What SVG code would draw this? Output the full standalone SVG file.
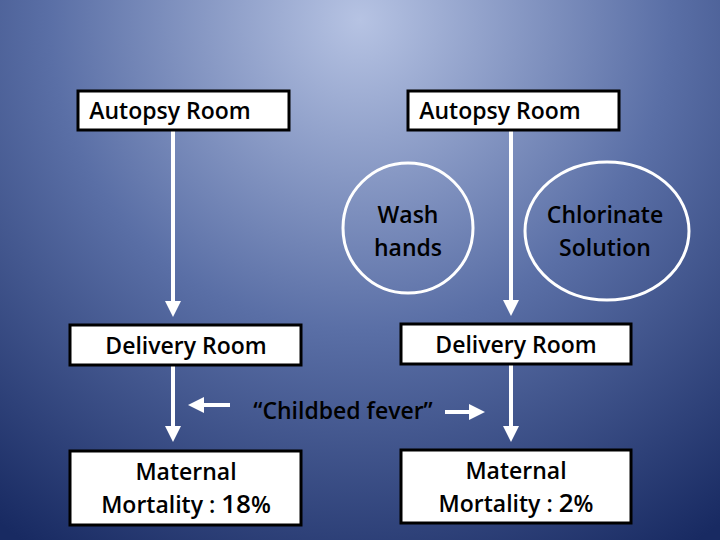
<svg xmlns="http://www.w3.org/2000/svg" width="720" height="540" viewBox="0 0 720 540">
<defs>
<radialGradient id="bg" cx="360" cy="20" r="620" gradientUnits="userSpaceOnUse">
<stop offset="0" stop-color="#b6c3e3"/>
<stop offset="0.5" stop-color="#5a6fa6"/>
<stop offset="1" stop-color="#182a62"/>
</radialGradient>
<marker id="ah" markerWidth="4" markerHeight="4" refX="3" refY="2" orient="auto" markerUnits="strokeWidth">
<path d="M0,0 L4,2 L0,4 Z" fill="#fff"/>
</marker>
</defs>
<style>
.box{fill:#fff;stroke:#000;stroke-width:3}
.circ{fill:none;stroke:#fff;stroke-width:3}
.t{font-family:"Open Sans","Noto Sans",sans-serif;font-size:23px;font-weight:600;fill:#000;text-anchor:middle}
.ln{stroke:#fff;stroke-width:4;fill:none;marker-end:url(#ah)}
</style>
<rect width="720" height="540" fill="url(#bg)"/>
<g id="connectors">
<path class="ln" d="M173,131 V313"/>
<path class="ln" d="M173,366 V438"/>
<path class="ln" d="M511,131 V312"/>
<path class="ln" d="M511,365 V438"/>
<path class="ln" d="M230,405 H192"/>
<path class="ln" d="M445,412 H481"/>
</g>
<g id="autopsy1"><rect class="box" x="78" y="91" width="211" height="39"/><text class="t" x="170" y="119">Autopsy Room</text></g>
<g id="autopsy2"><rect class="box" x="408" y="91" width="211" height="39"/><text class="t" x="500" y="119">Autopsy Room</text></g>
<g id="wash"><circle class="circ" cx="408" cy="228" r="65"/><text class="t" x="408" y="223">Wash</text><text class="t" x="408" y="256">hands</text></g>
<g id="chlor"><ellipse class="circ" cx="607" cy="231" rx="82" ry="69"/><text class="t" x="605" y="223">Chlorinate</text><text class="t" x="605" y="256">Solution</text></g>
<g id="delivery1"><rect class="box" x="70" y="325" width="231" height="40"/><text class="t" x="186" y="354">Delivery Room</text></g>
<g id="delivery2"><rect class="box" x="401" y="324" width="230" height="40"/><text class="t" x="516" y="353">Delivery Room</text></g>
<g id="fever"><text class="t" x="343" y="419">“Childbed fever”</text></g>
<g id="mat1"><rect class="box" x="70" y="451" width="231" height="74"/><text class="t" x="186" y="480">Maternal</text><text class="t" x="186" y="513">Mortality : <tspan font-size="26">18</tspan>%</text></g>
<g id="mat2"><rect class="box" x="401" y="450" width="230" height="73"/><text class="t" x="516" y="479">Maternal</text><text class="t" x="516" y="512">Mortality : <tspan font-size="26">2</tspan>%</text></g>
</svg>
